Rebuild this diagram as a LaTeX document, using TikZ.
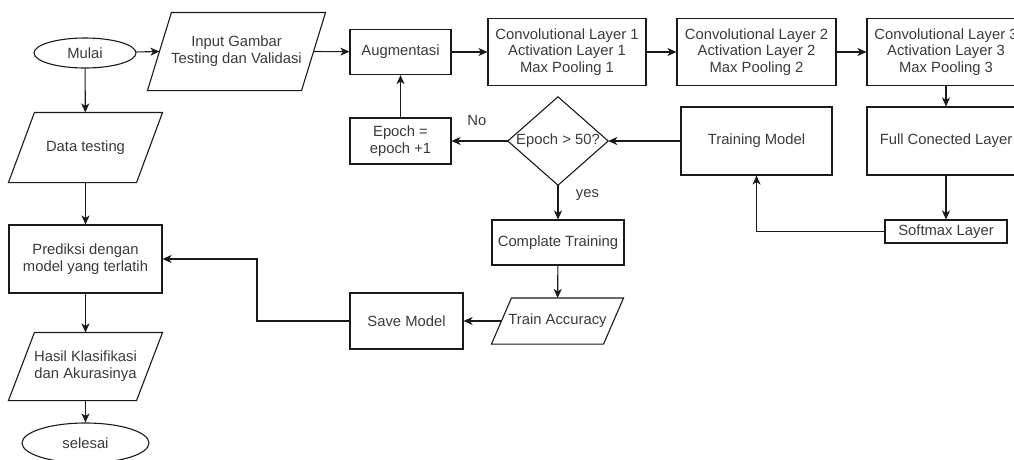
\documentclass[tikz,border=0pt]{standalone}
\usepackage{fontspec}
\setmainfont{Liberation Sans}
\usetikzlibrary{shapes.geometric,arrows.meta,calc}
\definecolor{txt}{HTML}{3A3A3A}
\definecolor{ln}{HTML}{1A1A1A}
\tikzset{
  base/.style={draw=ln, line width=1.1pt, inner sep=0pt, align=center, text=txt,
    font=\fontsize{14.8}{16.8}\selectfont},
  box/.style={base, rectangle},
  term/.style={base, ellipse},
  io/.style={base, rectangle, draw=none},
  shp/.style={draw=ln, line width=1.1pt, line join=miter},
  arr/.style={draw=ln, line width=1.1pt, -{Stealth[length=9pt,width=8pt,inset=2.5pt]}},
  lbl/.style={text=txt, font=\fontsize{14.8}{16.8}\selectfont}
}
\newcommand\ioshape[2]{%
  \draw[shp] (#1.south west) -- ($(#1.north west)+(#2,0)$) -- (#1.north east)
    -- ($(#1.south east)-(#2,0)$) -- cycle;}
\begin{document}
\begin{tikzpicture}[x=1pt,y=-1pt]
\useasboundingbox (0,0) rectangle (1014,459);
% left column
\node[term, minimum width=102, minimum height=30] (mulai) at (85,53) {Mulai};
\node[io, minimum width=153, minimum height=69] (dt) at (85.5,147.5) {Data testing};
\ioshape{dt}{26}
\node[box, minimum width=153, minimum height=68] (pred) at (85.5,259) {Prediksi dengan\\model yang terlatih};
\node[io, minimum width=153, minimum height=67] (hasil) at (85.5,366.5) {Hasil Klasifikasi\\dan Akurasinya};
\ioshape{hasil}{26}
\node[term, minimum width=127, minimum height=40] (sel) at (85.5,443) {selesai};
% top row
\node[io, minimum width=177, minimum height=77] (inp) at (236.5,51.5) {Input Gambar\\Testing dan Validasi};
\ioshape{inp}{24}
\node[box, minimum width=101, minimum height=45] (aug) at (400.5,52) {Augmentasi};
\node[box, minimum width=158, minimum height=67] (c1) at (567,52) {Convolutional Layer 1\\Activation Layer 1\\Max Pooling 1};
\node[box, minimum width=159, minimum height=67] (c2) at (756.5,52) {Convolutional Layer 2\\Activation Layer 2\\Max Pooling 2};
\node[box, minimum width=158, minimum height=67] (c3) at (946,52) {Convolutional Layer 3\\Activation Layer 3\\Max Pooling 3};
% right column
\node[box, minimum width=158, minimum height=68] (fc) at (946,141) {Full Conected Layer};
\node[box, minimum width=122, minimum height=23] (soft) at (946,231.5) {Softmax Layer};
\node[box, minimum width=151, minimum height=68] (train) at (756.5,141) {Training Model};
% decision
\node[minimum width=100, minimum height=88, inner sep=0pt, text=txt,
  font=\fontsize{14.8}{16.8}\selectfont] (d) at (558,141) {Epoch > 50?};
\draw[shp] (d.north) -- (d.east) -- (d.south) -- (d.west) -- cycle;
\node[box, minimum width=101, minimum height=46] (ep) at (400.5,141) {Epoch =\\epoch +1};
\node[box, minimum width=132, minimum height=45] (ct) at (558,242.5) {Complate Training};
\node[io, minimum width=131, minimum height=45] (ta) at (557.5,321) {Train Accuracy};
\ioshape{ta}{20}
\node[box, minimum width=113, minimum height=56] (save) at (406.5,321) {Save Model};
\coordinate (k) at (257,0);
% connectors
\draw[arr] (mulai) -- ($(inp.west)+(12,0)$);
\draw[arr] (mulai) -- (dt);
\draw[arr] (dt) -- (pred);
\draw[arr] (pred) -- (hasil);
\draw[arr] (hasil) -- (sel);
\draw[arr] ($(inp.east)-(12,0)$) -- (aug);
\draw[arr] (aug) -- (c1);
\draw[arr] (c1) -- (c2);
\draw[arr] (c2) -- (c3);
\draw[arr] (c3) -- (fc);
\draw[arr] (fc) -- (soft);
\draw[arr] (soft.west) -| (train.south);
\draw[arr] (train.west) -- (d.east);
\draw[arr] (d.west) -- node[lbl, above, pos=0.55, yshift=11pt] {No} (ep.east);
\draw[arr] (ep) -- (aug);
\draw[arr] (d.south) -- node[lbl, right, pos=0.3, xshift=14pt] {yes} (ct.north);
\draw[arr] (ct) -- (ta);
\draw[arr] ($(ta.west)+(10,0)$) -- (save);
\draw[arr] (save.west) -- (save.west -| k) |- (pred.east);
\end{tikzpicture}
\end{document}
